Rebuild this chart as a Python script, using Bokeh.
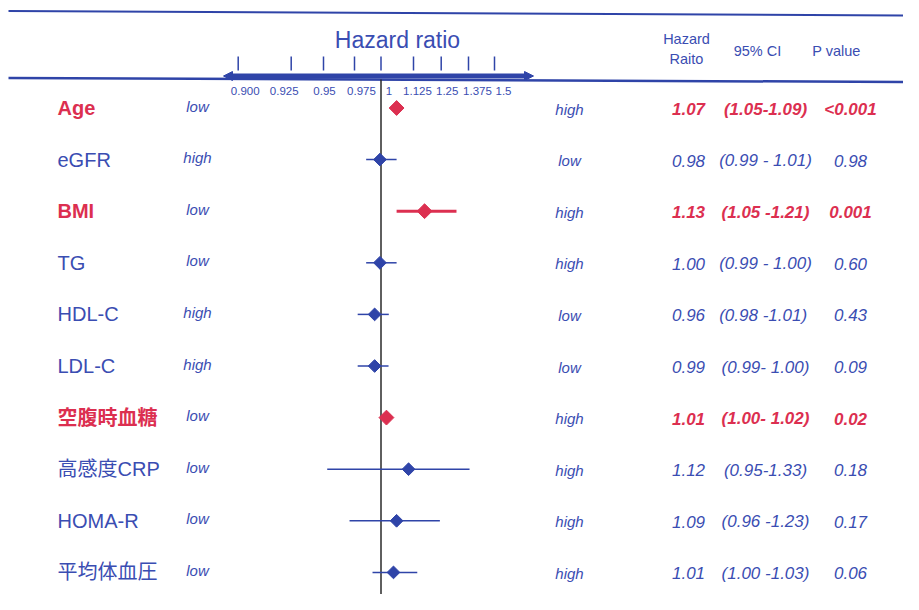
import math
from bokeh.plotting import figure
from bokeh.models import (ColumnDataSource, Range1d, LinearInterpolator, Arrow, NormalHead)
from bokeh.transform import transform
from bokeh.core.properties import value
from bokeh.embed import file_html
from bokeh.resources import INLINE

# ---------------- data ----------------
factors = ["Age", "eGFR", "BMI", "TG", "HDL-C", "LDL-C", "空腹時血糖", "高感度CRP", "HOMA-R", "平均体血圧"]
significant = [True, False, True, False, False, False, True, False, False, False]
left_dir = ["low", "high", "low", "low", "high", "high", "low", "low", "low", "low"]
right_dir = ["high", "low", "high", "high", "low", "low", "high", "high", "high", "high"]
hr_text = ["1.07", "0.98", "1.13", "1.00", "0.96", "0.99", "1.01", "1.12", "1.09", "1.01"]
ci_text = ["(1.05-1.09)", "(0.99 - 1.01)", "(1.05 -1.21)", "(0.99 - 1.00)", "(0.98  -1.01)",
           "(0.99- 1.00)", "(1.00- 1.02)", "(0.95-1.33)", "(0.96 -1.23)", "(1.00 -1.03)"]
p_text = ["<0.001", "0.98", "0.001", "0.60", "0.43", "0.09", "0.02", "0.18", "0.17", "0.06"]

# hazard ratios as drawn in the forest plot
hr_plot = [1.06, 0.999, 1.175, 0.999, 0.994, 0.994, 1.021, 1.106, 1.06, 1.048]
lo_plot = [1.05, 0.986, 1.06, 0.986, 0.978, 0.978, 1.01, 0.953, 0.971, 0.992]
hi_plot = [1.07, 1.06, 1.32, 1.06, 1.03, 1.029, 1.03, 1.38, 1.244, 1.142]

tick_values = [0.900, 0.925, 0.95, 0.975, 1.0, 1.125, 1.25, 1.375, 1.5]
tick_labels = ["0.900", "0.925", "0.95", "0.975", "1", "1.125", "1.25", "1.375", "1.5"]

# ---------------- layout / style ----------------
BLUE = "#3a4db2"
DBLUE = "#2f44a8"
RED = "#dc2f50"
FONT = "'Liberation Sans', 'Noto Sans CJK JP', sans-serif"

ROW0, ROWH = 107.5, 51.6          # picture y of first row, row pitch
def py(y):                         # picture pixel y -> row units
    return (y - ROW0) / ROWH

# piecewise axis of the drawing (tick value -> horizontal position)
tick_pos = [237.7, 290.7, 323.0, 354.0, 380.5, 413.0, 440.7, 468.0, 494.0]
label_shift = [7, -7, 1, 7, 8, 4, 6, 9, 9]   # label offsets from their ticks (px)
hr_scale = LinearInterpolator(x=tick_values, y=tick_pos, clip=False)

W, H = 903, 594
p = figure(width=W, height=H, x_range=Range1d(0, W),
           y_range=Range1d(py(H), py(0)),
           output_backend="svg", toolbar_location=None, min_border=0,
           x_axis_type=None, y_axis_type=None)
p.grid.visible = False
p.outline_line_color = None
p.background_fill_color = "white"

rows = list(range(len(factors)))
colors = [RED if s else BLUE for s in significant]
mcolors = [RED if s else DBLUE for s in significant]
styles = ["bold" if s else "normal" for s in significant]
istyles = ["bold italic" if s else "italic" for s in significant]
msize = [10.5 if s else 9 for s in significant]
lw = [3 if s else 1.5 for s in significant]

src = ColumnDataSource(dict(row=rows, factor=factors, color=colors, mcolor=mcolors,
                            style=styles, istyle=istyles, ldir=left_dir, rdir=right_dir,
                            hrt=hr_text, cit=ci_text, pt=p_text,
                            hr=hr_plot, lo=lo_plot, hi=hi_plot, msize=msize, lw=lw))

# header rules
p.segment(x0=[8, 8], y0=[py(10.5), py(77.5)], x1=[W, W], y1=[py(15), py(81.5)],
          line_color=DBLUE, line_width=[2, 2.5])

# axis bar with arrow heads
p.add_layout(Arrow(start=NormalHead(size=9, fill_color=DBLUE, line_color=DBLUE),
                   end=NormalHead(size=9, fill_color=DBLUE, line_color=DBLUE),
                   x_start=223, y_start=py(75.5), x_end=533, y_end=py(75.5),
                   line_color=DBLUE, line_width=5))

tsrc = ColumnDataSource(dict(v=tick_values, lab=tick_labels, dx=label_shift))
p.segment(x0=transform("v", hr_scale), x1=transform("v", hr_scale),
          y0=py(56), y1=py(70), source=tsrc, line_color=DBLUE, line_width=1.5)
p.text(x=transform("v", hr_scale), y=py(90), text="lab", source=tsrc, x_offset="dx",
       text_font=value(FONT), text_font_size="11.5px", text_color=BLUE,
       text_align="center", text_baseline="middle")

p.text(x=[397], y=[py(39)], text=["Hazard ratio"], text_font=value(FONT),
       text_font_size="23px", text_color=BLUE, text_align="center", text_baseline="middle")

# reference line at HR = 1
rsrc = ColumnDataSource(dict(v=[1.0]))
p.segment(x0=transform("v", hr_scale), x1=transform("v", hr_scale),
          y0=py(79), y1=py(599), source=rsrc, line_color="#2a2a2a", line_width=1.5)

# table headers
p.text(x=[686, 686], y=[py(38), py(58)], text=["Hazard", "Raito"], text_font=value(FONT),
       text_font_size="14.5px", text_color=BLUE, text_align="center", text_baseline="middle")
p.text(x=[757, 836], y=[py(50), py(50)], text=["95% CI", "P value"], text_font=value(FONT),
       text_font_size="14.5px", text_color=BLUE, text_align="center", text_baseline="middle")

# row labels
p.text(x=57, y="row", text="factor", source=src, text_font=value(FONT),
       text_font_size="20px", text_font_style="style", text_color="color",
       text_align="left", text_baseline="middle")
p.text(x=197, y="row", text="ldir", source=src, y_offset=-2, text_font=value(FONT),
       text_font_size="15px", text_font_style="italic", text_color=BLUE,
       text_align="center", text_baseline="middle")
p.text(x=569, y="row", text="rdir", source=src, y_offset=1, text_font=value(FONT),
       text_font_size="15px", text_font_style="italic", text_color=BLUE,
       text_align="center", text_baseline="middle")

# forest marks
p.segment(x0=transform("lo", hr_scale), x1=transform("hi", hr_scale), y0="row", y1="row",
          source=src, line_color="mcolor", line_width="lw")
p.scatter(x=transform("hr", hr_scale), y="row", source=src, marker="square",
          angle=math.pi / 4, size="msize", fill_color="mcolor", line_color="mcolor")

# right-hand table
for col, xc in (("hrt", 688), ("cit", 765), ("pt", 850)):
    p.text(x=xc, y="row", text=col, source=src, y_offset=1, text_font=value(FONT),
           text_font_size="17px", text_font_style="istyle", text_color="color",
           text_align="center", text_baseline="middle")

open("out.html", "w").write(file_html(p, INLINE))
